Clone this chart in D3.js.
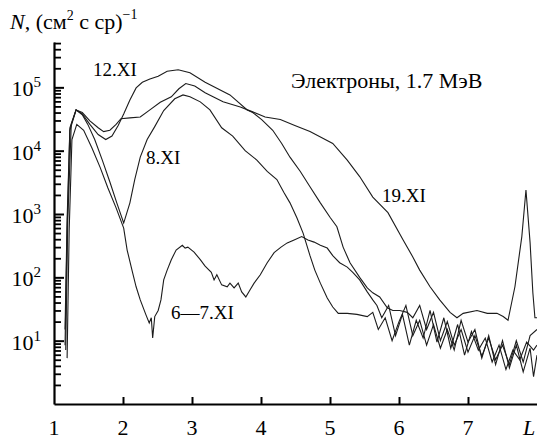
<!DOCTYPE html>
<html>
<head>
<meta charset="utf-8">
<script src="https://cdn.jsdelivr.net/npm/d3@7"></script>
<style>
    body { margin: 0; background: #fff; }
</style>
</head>
<body>
<svg id="chart" width="537" height="439"></svg>
<script>
// L shell values and fluxes, one pair of arrays per date
const L_12 = [1.16, 1.19, 1.23, 1.32, 1.41, 1.52, 1.64, 1.75, 1.84, 1.93, 2.01, 2.10, 2.19, 2.28, 2.39, 2.51, 2.64, 2.80, 2.97, 3.19, 3.55, 3.80, 3.88, 4.01, 4.17, 4.30, 4.42, 4.57, 4.71, 4.86, 5.00, 5.10, 5.19, 5.29, 5.43, 5.54, 5.62, 5.72, 5.83, 5.91, 6.01, 6.12,
    6.2, 6.3, 6.4, 6.5, 6.6, 6.7, 6.8, 6.9, 7.0, 7.1, 7.2, 7.3, 7.4, 7.5, 7.6, 7.7, 7.8, 7.9, 8.0];
const N_12 = [15, 810, 2.3e4, 4.4e4, 3.8e4, 2.6e4, 1.8e4, 1.5e4, 1.7e4, 2.5e4, 3.8e4, 6.3e4, 9.8e4, 1.2e5, 1.35e5, 1.5e5, 1.8e5, 1.9e5, 1.7e5, 1.2e5, 7.6e4, 4.4e4, 4.0e4, 3.1e4, 2.1e4, 1.3e4, 7900, 4700, 2700, 1500, 890, 630, 300, 170, 100, 68, 57, 49, 33, 30, 30, 28,
    23, 36, 15, 28, 10, 20, 8.5, 15, 6.6, 12, 5.7, 11, 5.0, 8.5, 4.2, 10, 4.6, 12, 15];

const L_19 = [1.16, 1.19, 1.23, 1.32, 1.41, 1.52, 1.64, 1.72, 1.81, 1.90, 1.97, 2.10, 2.25, 2.39, 2.54, 2.70, 2.81, 2.91, 3.04, 3.19, 3.45, 3.70, 3.88, 4.06, 4.28, 4.49, 4.71, 5.04, 5.25, 5.43, 5.62, 5.84, 6.06, 6.20, 6.30, 6.45, 6.59, 6.74, 6.84, 6.93, 7.13, 7.28, 7.42, 7.51, 7.58,
    7.68, 7.78, 7.84, 7.90, 7.94, 7.97, 8.0];
const N_19 = [8.5, 560, 2.1e4, 4.4e4, 4.0e4, 2.95e4, 2.3e4, 2.0e4, 2.1e4, 2.6e4, 3.2e4, 3.3e4, 3.4e4, 4.4e4, 5.8e4, 7.1e4, 9.5e4, 1.15e5, 1.05e5, 8.2e4, 5.9e4, 4.9e4, 4.1e4, 3.4e4, 3.1e4, 2.5e4, 2.0e4, 1.3e4, 7100, 3900, 1850, 1050, 390, 210, 130, 71, 44, 28, 23, 27, 30, 27, 27, 24, 21,
    71, 440, 2400, 350, 57, 23, 23];

const L_8 = [1.17, 1.20, 1.25, 1.32, 1.41, 1.49, 1.59, 1.70, 1.81, 1.91, 2.01, 2.10, 2.17, 2.25, 2.35, 2.46, 2.59, 2.75, 2.87, 2.97, 3.12, 3.26, 3.43, 3.59, 3.77, 3.94, 4.09, 4.23, 4.33, 4.42, 4.52, 4.61, 4.71, 4.78, 4.86, 4.96, 5.04, 5.12, 5.25, 5.39, 5.54, 5.62,
    5.7, 5.8, 5.9, 6.0, 6.1, 6.2, 6.3, 6.4, 6.5, 6.6, 6.7, 6.8, 6.9, 7.0, 7.1, 7.2, 7.3, 7.4, 7.5, 7.6, 7.7, 7.8, 7.9, 7.95, 8.0];
const N_8 = [7.1, 810, 2.6e4, 4.4e4, 3.7e4, 2.6e4, 1.5e4, 7100, 3200, 1500, 720, 1500, 3500, 7900, 1.5e4, 2.4e4, 4.3e4, 6.6e4, 7.6e4, 7.1e4, 5.9e4, 4.4e4, 2.3e4, 1.7e4, 1.0e4, 7100, 4700, 3500, 2200, 1500, 870, 500, 220, 130, 81, 47, 34, 27, 27, 26, 24, 28,
    15, 23, 10, 20, 36, 12, 21, 8.5, 18, 7.6, 15, 7.1, 21, 9.5, 15, 5.3, 12, 4.2, 10, 3.7, 8.5, 3.2, 7.6, 2.7, 5.9];

const L_67 = [1.19, 1.22, 1.26, 1.33, 1.43, 1.55, 1.67, 1.78, 1.90, 2.01, 2.06, 2.13, 2.19, 2.25, 2.33, 2.38, 2.41, 2.43, 2.46, 2.51, 2.55, 2.59, 2.64, 2.70, 2.77, 2.86, 2.90, 2.94, 3.03, 3.12, 3.19, 3.28, 3.32, 3.36, 3.43, 3.51, 3.55, 3.61, 3.67, 3.72, 3.78, 3.84, 3.90, 3.99,
    4.09, 4.19, 4.29, 4.38, 4.48, 4.59, 4.68, 4.77, 4.86, 4.96, 5.04, 5.14, 5.25, 5.33, 5.43, 5.54, 5.62, 5.68,
    5.75, 5.85, 5.95, 6.05, 6.15, 6.25, 6.35, 6.45, 6.55, 6.65, 6.75, 6.85, 6.95, 7.05, 7.15, 7.25, 7.35, 7.45, 7.55, 7.65, 7.75, 7.85, 7.95, 8.0];
const N_67 = [5.3, 560, 1.5e4, 2.6e4, 2.1e4, 1.1e4, 5400, 2600, 1250, 600, 270, 130, 71, 44, 26, 19, 23, 11, 24, 30, 44, 91, 130, 190, 270, 320, 290, 300, 250, 190, 150, 120, 91, 110, 76, 71, 81, 68, 81, 59, 49, 63, 81, 110,
    170, 245, 300, 350, 390, 440, 390, 360, 320, 290, 220, 170, 145, 120, 91, 59, 44, 36,
    23, 36, 12, 26, 8.5, 21, 11, 30, 9.5, 23, 7.6, 18, 5.9, 14, 7.1, 11, 4.6, 8.5, 3.5, 7.1, 5.0, 9.5, 7.1, 8.5];

const xTicks = [2, 3, 4, 5, 6, 7];
const xLabels = ["1", "2", "3", "4", "5", "6", "7"];
const yDecades = [1, 2, 3, 4, 5];

const serif = "'Liberation Serif', 'Times New Roman', serif";

const svg = d3.select("#chart");

const x = d3.scaleLinear().domain([1, 8]).range([54, 537]);
const y = d3.scaleLog().domain([1, 5.2e5]).range([404, 42]);

// minor ticks: 2..9 in every decade that fits
let minorTicks = [];
for (let p = 0; p <= 5; p++) {
    for (let k = 2; k <= 9; k++) {
        let v = k * Math.pow(10, p);
        if (v < 5.2e5) minorTicks.push(v);
    }
}

let yMinor = svg.append("g")
    .attr("transform", "translate(54,0)")
    .call(d3.axisLeft(y).tickValues(minorTicks).tickSize(-7).tickSizeOuter(0).tickFormat(""));
yMinor.selectAll(".tick line").attr("stroke", "#000").attr("stroke-width", 1.8);
yMinor.select(".domain").remove();

let yMajor = svg.append("g")
    .attr("transform", "translate(54,0)")
    .call(d3.axisLeft(y).tickValues(yDecades.map(d => Math.pow(10, d))).tickSize(-10).tickSizeOuter(0).tickFormat(""));
yMajor.selectAll(".tick line").attr("stroke", "#000").attr("stroke-width", 2);
yMajor.select(".domain").attr("stroke", "#000").attr("stroke-width", 2.2);

let xAxis = svg.append("g")
    .attr("transform", "translate(0,404)")
    .call(d3.axisBottom(x).tickValues(xTicks).tickSize(-7).tickSizeOuter(0).tickFormat(""));
xAxis.selectAll(".tick line").attr("stroke", "#000").attr("stroke-width", 2);
xAxis.select(".domain").attr("stroke", "#000").attr("stroke-width", 2.2);

// y labels 10^n
yDecades.forEach(function (d) {
    let t = svg.append("text")
        .attr("x", 41)
        .attr("y", y(Math.pow(10, d)) + 9)
        .attr("text-anchor", "end")
        .attr("font-family", serif)
        .attr("font-size", 22);
    t.append("tspan").text("10");
    t.append("tspan").attr("dy", -9).attr("font-size", 15).text(d);
});

// x labels
xLabels.forEach(function (d) {
    svg.append("text")
        .attr("x", x(+d))
        .attr("y", 435)
        .attr("text-anchor", "middle")
        .attr("font-family", serif)
        .attr("font-size", 22)
        .text(d);
});
svg.append("text")
    .attr("x", 529)
    .attr("y", 435)
    .attr("text-anchor", "middle")
    .attr("font-family", serif)
    .attr("font-size", 22)
    .attr("font-style", "italic")
    .text("L");

// axis title
let title = svg.append("text").attr("x", 10).attr("y", 29)
    .attr("font-family", serif).attr("font-size", 22);
title.append("tspan").attr("font-style", "italic").text("N");
title.append("tspan").text(", (см");
title.append("tspan").attr("dy", -9).attr("font-size", 14).text("2");
title.append("tspan").attr("dy", 9).text(" с ср)");
title.append("tspan").attr("dy", -10).attr("font-size", 14).text("−1");

let line = d3.line()
    .x(d => x(d[0]))
    .y(d => y(d[1]));

let series = [[L_12, N_12], [L_19, N_19], [L_8, N_8], [L_67, N_67]];
series.forEach(function (s) {
    let pts = s[0].map((l, i) => [l, s[1][i]]);
    svg.append("path")
        .datum(pts)
        .attr("fill", "none")
        .attr("stroke", "#1c1c1c")
        .attr("stroke-width", 1.1)
        .attr("d", line);
});

// curve labels
let notes = [
    ["12.XI", 93, 76, 19],
    ["8.XI", 146, 164, 19],
    ["19.XI", 382, 202, 19],
    ["6—7.XI", 171, 319, 19],
    ["Электроны, 1.7 МэВ", 291, 88, 22]
];
notes.forEach(function (n) {
    svg.append("text")
        .attr("x", n[1])
        .attr("y", n[2])
        .attr("font-family", serif)
        .attr("font-size", n[3])
        .text(n[0]);
});
</script>
</body>
</html>
